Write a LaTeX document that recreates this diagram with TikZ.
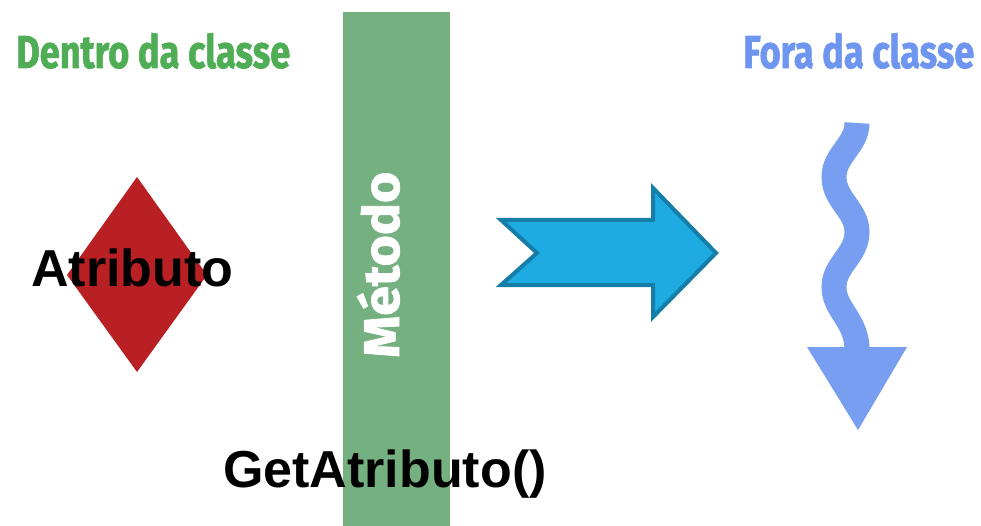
\documentclass[tikz,border=0pt]{standalone}
\usepackage{fontspec}
\setmainfont{Liberation Sans}
\newfontfamily\titlefont[BoldFeatures={FakeBold=1.5}]{Fira Sans}
\usetikzlibrary{calc}
\definecolor{titlegreen}{HTML}{4FAE55}
\definecolor{bargreen}{HTML}{74B080}
\definecolor{titleblue}{HTML}{6E96F0}
\definecolor{wavyblue}{HTML}{789EF2}
\definecolor{diamred}{HTML}{B82024}
\definecolor{arrowfill}{HTML}{1EABE2}
\definecolor{arrowline}{HTML}{147DA8}
\tikzset{
  titletext/.style={inner sep=0pt, anchor=base west, font=\titlefont\bfseries},
  bigtext/.style={inner sep=0pt, anchor=base west, font=\fontsize{52}{60}\selectfont\bfseries, text=black},
}
\begin{document}
\begin{tikzpicture}[x=1pt,y=-1pt]
\useasboundingbox (0,0) rectangle (981,526);
\fill[white] (0,0) rectangle (981,526);
% titles
\node[titletext, text=titlegreen] (dentro) at (16,68) {\resizebox{274pt}{35pt}{Dentro da classe}};
\node[titletext, text=titleblue] (fora) at (743,68) {\resizebox{231pt}{35pt}{Fora da classe}};
% bar
\fill[bargreen] (343,12) rectangle (450,526);
\node[titletext, text=white, rotate=90] (metodo) at (399,358) {\resizebox{186pt}{42pt}{Método}};
% diamond
\fill[diamred] (137,177) -- (207,275) -- (137,372) -- (67,275) -- cycle;
\node[bigtext] (atributo) at (31,287) {Atributo};
% GetAtributo
\node[bigtext] (get) at (223,487) {GetAtributo()};
% blue arrow
\filldraw[fill=arrowfill, draw=arrowline, line width=4pt, line join=miter]
  (501,220) -- (653,220) -- (653,188) -- (716,253) -- (653,317) -- (653,285) -- (501,285) -- (537,253) -- cycle;
% wavy arrow
\draw[wavyblue, line width=25pt, line cap=butt]
  (857,123) .. controls (857,145) and (834,155) .. (834,177)
  .. controls (834,200) and (857,210) .. (857,232)
  .. controls (857,255) and (834,265) .. (834,287)
  .. controls (834,310) and (857,320) .. (857,350);
\fill[wavyblue] (807,347) -- (907,347) -- (858,430) -- cycle;
\end{tikzpicture}
\end{document}
